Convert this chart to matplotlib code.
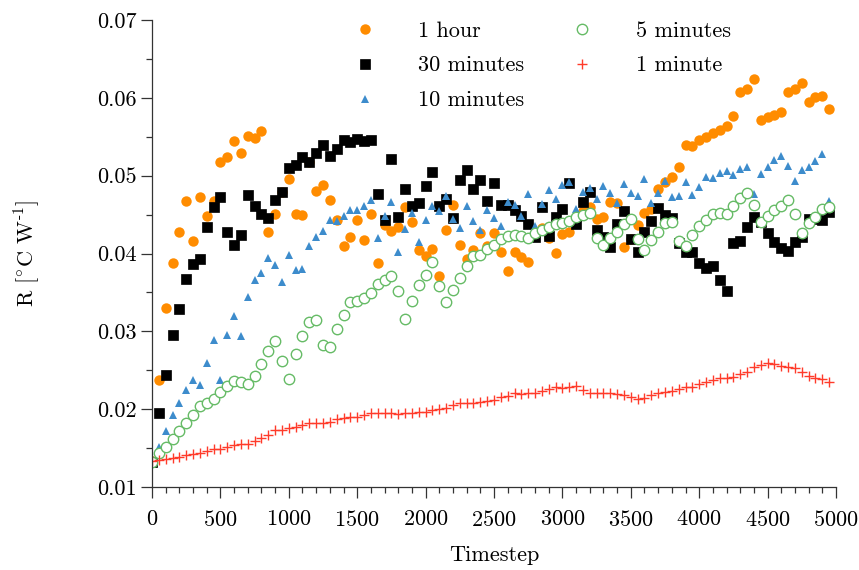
import numpy as np
import matplotlib
matplotlib.use("Agg")
import matplotlib.pyplot as plt

plt.rcParams['font.family'] = 'serif'
plt.rcParams['font.serif'] = ['cmr10']
plt.rcParams['mathtext.fontset'] = 'cm'
plt.rcParams['axes.formatter.use_mathtext'] = True

timestep = np.arange(0, 5000, 50)

one_hour = [
    0.0133, 0.0238, 0.0330, 0.0388, 0.0428, 0.0468, 0.0416, 0.0473, 0.0448, 0.0467,
    0.0517, 0.0524, 0.0544, 0.0529, 0.0551, 0.0549, 0.0558, 0.0428, 0.0451, 0.0479,
    0.0496, 0.0451, 0.0450, 0.0518, 0.0480, 0.0488,
    0.04685, 0.04436, 0.04092, 0.04212, 0.04427, 0.0417, 0.04509, 0.03878, 0.04371, 0.04285,
    0.04341, 0.04599, 0.04401, 0.04041, 0.03964, 0.04058, 0.03706, 0.04298, 0.04629, 0.04114,
    0.03929, 0.0405, 0.04264, 0.04092, 0.04264, 0.04024,
    0.0378, 0.04015, 0.03951, 0.03895, 0.0425, 0.0433, 0.0420, 0.0401, 0.0425, 0.0428,
    0.0445, 0.0455, 0.0460, 0.04439, 0.04473, 0.04666, 0.04645, 0.04079, 0.0419, 0.04366,
    0.04516, 0.04568,
    0.04825, 0.0492, 0.0498, 0.05116, 0.05394, 0.05381, 0.05458, 0.05497, 0.05548, 0.0559,
    0.05638, 0.05767, 0.0608, 0.0611, 0.06238, 0.05715, 0.05749, 0.0578, 0.05812, 0.0608,
    0.0611, 0.06187, 0.05951, 0.06007, 0.06024, 0.0586,
]

thirty_min = [
    0.0132, 0.01946, 0.0244, 0.02955, 0.03285, 0.03672, 0.03869, 0.03929, 0.04341, 0.04599,
    0.04723, 0.04273, 0.04114, 0.04242, 0.04758, 0.04616, 0.04513, 0.04457, 0.04685, 0.04788,
    0.05101, 0.05131, 0.05242, 0.05174, 0.05294, 0.05389,
    0.05251, 0.05337, 0.05457, 0.05431, 0.05466, 0.05444, 0.05457, 0.04766, 0.04436, 0.05217,
    0.04466, 0.0483, 0.04607, 0.0465, 0.04873, 0.05045, 0.04616, 0.04702, 0.04457, 0.0495,
    0.05079, 0.0483, 0.0495, 0.04672,
    0.0491, 0.04623, 0.04623, 0.04559, 0.04482, 0.04379, 0.04208, 0.04602, 0.04225, 0.04473,
    0.04568, 0.04902, 0.04379, 0.04666, 0.04795, 0.04302, 0.04208, 0.04088, 0.04379, 0.04551,
    0.04182, 0.04024, 0.04281, 0.04422, 0.0458, 0.04495,
    0.0445, 0.04131, 0.04024, 0.04024, 0.03882, 0.0381, 0.0384, 0.0366, 0.03523, 0.04131,
    0.04161, 0.04345, 0.04473, 0.04409, 0.04268, 0.04152, 0.04067, 0.04037, 0.04152, 0.04216,
    0.04439, 0.04439, 0.0443, 0.04538,
]

ten_min = [
    0.0135, 0.01517, 0.01719, 0.01925, 0.02075, 0.02247, 0.02376, 0.02311, 0.0259, 0.0289,
    0.02376, 0.02955, 0.0320, 0.02942, 0.0344, 0.03663, 0.03749, 0.03942, 0.03856, 0.03629,
    0.03981, 0.03792, 0.03805, 0.04092, 0.04212, 0.0429,
    0.04436, 0.04414, 0.04479, 0.04556, 0.04556, 0.04616, 0.04693, 0.0420, 0.04479, 0.04659,
    0.04015, 0.04315, 0.04521, 0.04144, 0.04427, 0.04607, 0.04543, 0.04736, 0.04449, 0.04328,
    0.04607, 0.04414, 0.04307, 0.04564,
    0.0445, 0.0435, 0.04666, 0.0462, 0.0448, 0.0476, 0.0435, 0.04636, 0.04816, 0.04705,
    0.04878, 0.04923, 0.04568, 0.0479, 0.0484, 0.04698, 0.04863, 0.04782, 0.04645, 0.04889,
    0.04773, 0.0474, 0.0496, 0.04653, 0.0478, 0.0493, 0.0473,
    0.04739, 0.04923, 0.04747, 0.04859, 0.04979, 0.04966, 0.0503, 0.05064, 0.05009, 0.05086,
    0.05107, 0.04765, 0.05017, 0.05107, 0.05201, 0.05253, 0.05129, 0.04936, 0.05073, 0.05116,
    0.05189, 0.05274, 0.04679,
]

five_min = [
    0.01324, 0.0144, 0.01517, 0.01612, 0.01719, 0.01826, 0.01925, 0.02041, 0.02075, 0.02131,
    0.02225, 0.02298, 0.02367, 0.0235, 0.02324, 0.02427, 0.02586, 0.02753, 0.02882, 0.0262,
    0.02384, 0.0271, 0.02942, 0.03114, 0.03148, 0.0282,
    0.02805, 0.03036, 0.03208, 0.0338, 0.03384, 0.03423, 0.03491, 0.03612, 0.03655, 0.03706,
    0.03513, 0.03161, 0.03384, 0.03594, 0.03727, 0.03886, 0.03577, 0.0338, 0.03534, 0.0368,
    0.03843, 0.03964, 0.03985, 0.04058, 0.04108,
    0.0419, 0.04225, 0.04238, 0.04222, 0.0420, 0.04262, 0.04305, 0.04345, 0.04379, 0.04396,
    0.0442, 0.04466, 0.04495, 0.04516, 0.0420, 0.04115, 0.0420, 0.0427, 0.04377, 0.04445,
    0.04182, 0.0405, 0.04174, 0.04281, 0.04388,
    0.04409, 0.04165, 0.04097, 0.04238, 0.04354, 0.04431, 0.04508, 0.04516, 0.04508, 0.0461,
    0.04709, 0.04782, 0.04623, 0.04409, 0.04482, 0.04559, 0.0461, 0.04687, 0.04508, 0.04268,
    0.04388, 0.04473, 0.04568, 0.04593,
]

one_min = [
    0.0134, 0.01345, 0.01354, 0.01367, 0.0138, 0.01406, 0.01423, 0.0144, 0.01457, 0.01483,
    0.01487, 0.01517, 0.01543, 0.01547, 0.01552, 0.01594, 0.01629, 0.01663, 0.01732, 0.01732,
    0.01753, 0.01775, 0.01796, 0.01826, 0.01826, 0.01826,
    0.01835, 0.01869, 0.01882, 0.01895, 0.01903, 0.01925, 0.01946, 0.01946, 0.01946, 0.01946,
    0.01933, 0.01955, 0.01955, 0.01959, 0.01968, 0.01989, 0.01998, 0.02011, 0.02054, 0.02075,
    0.02075, 0.02075, 0.02092, 0.02109,
    0.02118, 0.02161, 0.02169, 0.02203, 0.02191, 0.02203, 0.02203, 0.02238, 0.02263, 0.0228,
    0.02268, 0.0228, 0.02298, 0.02246, 0.02212, 0.02203, 0.02203, 0.02203, 0.02191, 0.02182,
    0.02161, 0.02131, 0.02148, 0.02182, 0.02212, 0.02216, 0.02233, 0.02255, 0.0228, 0.02289,
    0.02323, 0.02345, 0.02375, 0.02396, 0.02396, 0.02418, 0.02452, 0.02482, 0.02546, 0.02568,
    0.02589, 0.0258, 0.02555, 0.02538, 0.02525, 0.02482, 0.02426, 0.02396, 0.02383, 0.02353,
]

fig = plt.figure(figsize=(8.59, 5.70), dpi=100)
ax = fig.add_axes([152 / 859, 1 - 487 / 570, (836 - 152) / 859, (487 - 20) / 570])

ax.plot(timestep, one_hour, 'o', color='#ff8c00', ms=7.5, mew=0, label='1 hour')
ax.plot(timestep, thirty_min, 's', color='black', ms=6.8, mew=0.5, label='30 minutes')
ax.plot(timestep, ten_min, '^', color='#3d8ccc', ms=6.3, mew=0, label='10 minutes')
ax.plot(timestep, five_min, 'o', mfc='white', mec='#66bb66', ms=7.5, mew=1.0, label='5 minutes')
ax.plot(timestep, one_min, '+', color='#ff3b2a', ms=7, mew=1.0, label='1 minute')

ax.set_xlim(0, 5000)
ax.set_ylim(0.01, 0.07)
ax.set_xticks(np.arange(0, 5001, 500))
ax.set_xticks(np.arange(0, 5001, 100), minor=True)
ax.set_yticks(np.arange(0.01, 0.0701, 0.01))
ax.set_yticks(np.arange(0.01, 0.0701, 0.005), minor=True)
ax.set_yticklabels(['%.2f' % v for v in np.arange(0.01, 0.0701, 0.01)])

for s in ['top', 'right']:
    ax.spines[s].set_visible(False)
for s in ['left', 'bottom']:
    ax.spines[s].set_color('#333333')
    ax.spines[s].set_linewidth(0.9)
ax.tick_params(which='major', direction='out', length=8, width=0.9, color='#333333',
               labelsize=16)
ax.tick_params(axis='x', which='major', pad=8.5)
ax.tick_params(axis='y', which='major', pad=3)
ax.tick_params(which='minor', direction='out', length=4.5, width=0.9, color='#333333')

ax.set_xlabel('Timestep', fontsize=16, labelpad=11)
ax.set_ylabel(r'R [$^{\circ}$C W$^{\text{-1}}$]', fontsize=16, labelpad=40)

ax.legend(ncol=2, frameon=False, fontsize=16, loc='upper left',
          bbox_to_anchor=(354 / 859, 1 - 21 / 570), bbox_transform=fig.transFigure,
          borderaxespad=0, borderpad=0, handlelength=1.0, handletextpad=1.9,
          columnspacing=2.1, labelspacing=0.69)

fig.savefig('out.png', dpi=100)
